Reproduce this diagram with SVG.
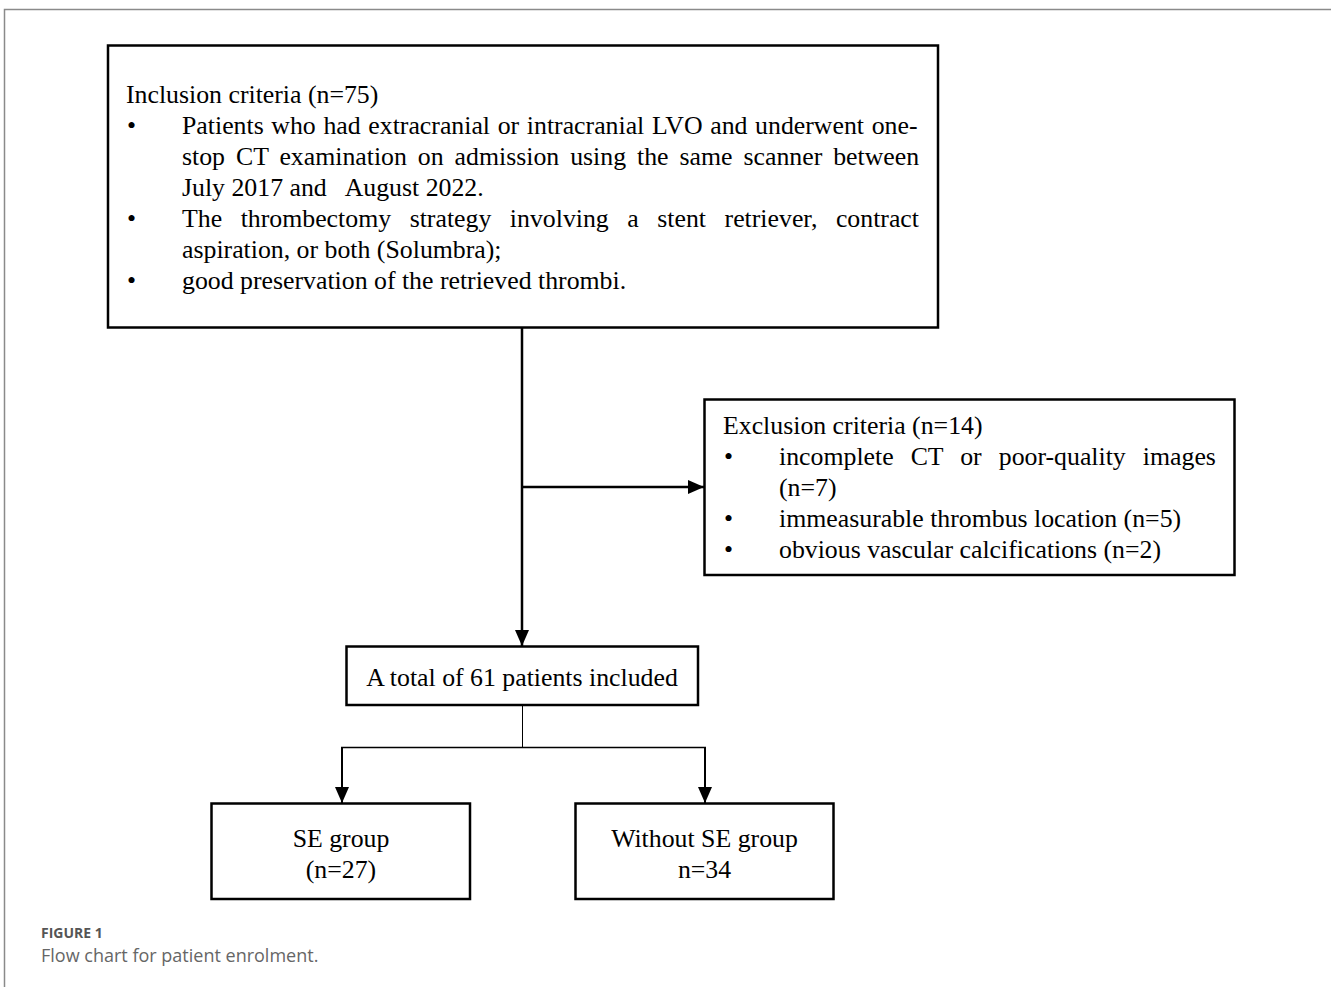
<svg xmlns="http://www.w3.org/2000/svg" width="1331" height="987" viewBox="0 0 1331 987">
<defs>
<style>
.box{fill:#fff;stroke:#000;stroke-width:2.5}
.t{font-family:"Liberation Serif","Times New Roman",serif;font-size:25.8px;fill:#000}
.c{text-anchor:middle}
.ln{fill:none;stroke:#000}
.cap1{font-family:"Open Sans","Noto Sans",sans-serif;font-size:14px;font-weight:bold;fill:#555}
.cap2{font-family:"Open Sans","Noto Sans",sans-serif;font-size:18px;fill:#666}
</style>
<marker id="ah" markerUnits="userSpaceOnUse" markerWidth="16" markerHeight="14" refX="16" refY="7" orient="auto">
<path d="M0,0 L16,7 L0,14 z" fill="#000"/>
</marker>
</defs>
<rect width="1331" height="987" fill="#fff"/>
<path d="M4.5,987 V9.5 H1331" fill="none" stroke="#8a8a8a" stroke-width="1.5"/>

<g id="connectors">
<line class="ln" x1="522" y1="327" x2="522" y2="646" stroke-width="2.5" marker-end="url(#ah)"/>
<line class="ln" x1="522" y1="487" x2="704" y2="487" stroke-width="2.5" marker-end="url(#ah)"/>
<line class="ln" x1="522.5" y1="705" x2="522.5" y2="747.5" stroke-width="1"/>
<line class="ln" x1="341" y1="747.5" x2="706" y2="747.5" stroke-width="1.5"/>
<line class="ln" x1="342" y1="747" x2="342" y2="803" stroke-width="2" marker-end="url(#ah)"/>
<line class="ln" x1="705" y1="747" x2="705" y2="803" stroke-width="2" marker-end="url(#ah)"/>
</g>

<g id="inclusion">
<rect class="box" x="108" y="45.5" width="830" height="282"/>
<text class="t" x="126" y="103">Inclusion criteria (n=75)</text>
<text class="t" x="127" y="134">•</text>
<text class="t" x="182" y="134" word-spacing="1.2">Patients who had extracranial or intracranial LVO and underwent one-</text>
<text class="t" x="182" y="165" word-spacing="4.5">stop CT examination on admission using the same scanner between</text>
<text class="t" x="182" y="196" xml:space="preserve">July 2017 and   August 2022.</text>
<text class="t" x="127" y="227">•</text>
<text class="t" x="182" y="227" word-spacing="12.1">The thrombectomy strategy involving a stent retriever, contract</text>
<text class="t" x="182" y="258">aspiration, or both (Solumbra);</text>
<text class="t" x="127" y="289">•</text>
<text class="t" x="182" y="289">good preservation of the retrieved thrombi.</text>
</g>

<g id="exclusion">
<rect class="box" x="704.5" y="399.5" width="530" height="175.5"/>
<text class="t" x="723" y="434">Exclusion criteria (n=14)</text>
<text class="t" x="724" y="465">•</text>
<text class="t" x="779" y="465" word-spacing="10.6">incomplete CT or poor-quality images</text>
<text class="t" x="779" y="496">(n=7)</text>
<text class="t" x="724" y="527">•</text>
<text class="t" x="779" y="527">immeasurable thrombus location (n=5)</text>
<text class="t" x="724" y="558">•</text>
<text class="t" x="779" y="558">obvious vascular calcifications (n=2)</text>
</g>

<g id="total">
<rect class="box" x="346.5" y="646.5" width="351.5" height="58.5"/>
<text class="t c" x="522" y="686">A total of 61 patients included</text>
</g>

<g id="se">
<rect class="box" x="211.5" y="803.5" width="258.5" height="95.5"/>
<text class="t c" x="341" y="847">SE group</text>
<text class="t c" x="341" y="878">(n=27)</text>
</g>

<g id="without-se">
<rect class="box" x="575.5" y="803.5" width="258" height="95.5"/>
<text class="t c" x="704.5" y="847">Without SE group</text>
<text class="t c" x="704.5" y="878">n=34</text>
</g>

<g id="caption">
<text class="cap1" x="41" y="938">FIGURE 1</text>
<text class="cap2" x="41" y="962">Flow chart for patient enrolment.</text>
</g>
</svg>
